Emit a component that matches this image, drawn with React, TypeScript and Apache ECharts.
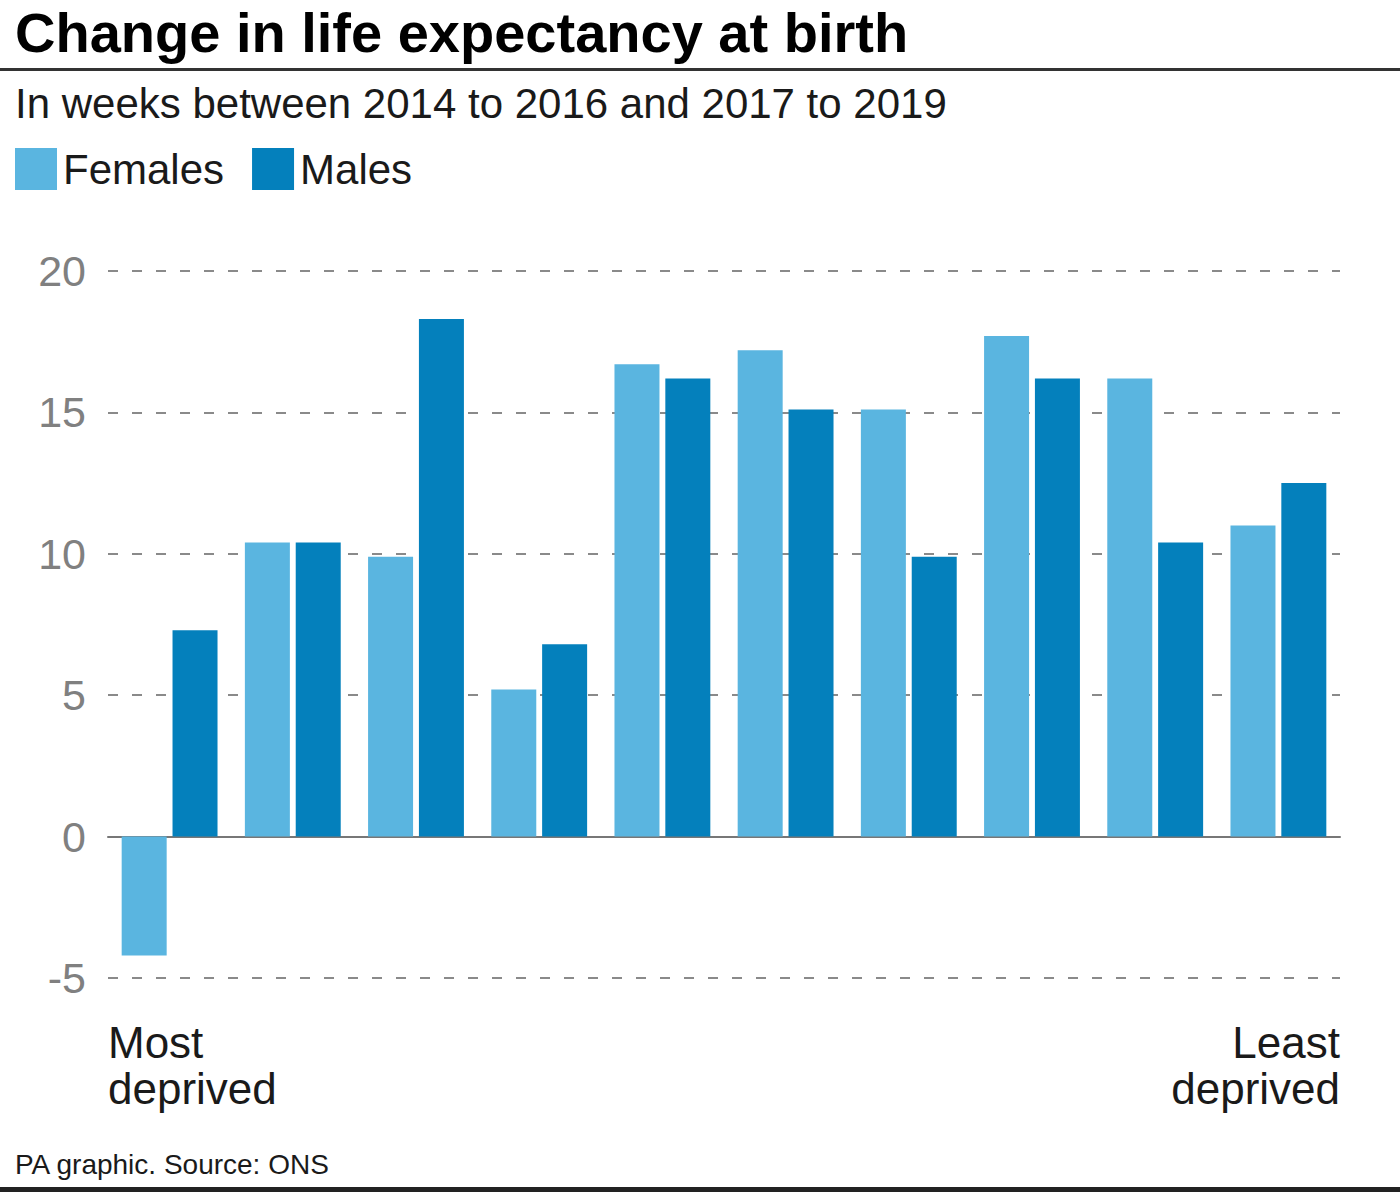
import React, { useEffect, useRef } from "react";
import * as echarts from "echarts";

const categories = ["1", "2", "3", "4", "5", "6", "7", "8", "9", "10"];
const females = [-4.2, 10.4, 9.9, 5.2, 16.7, 17.2, 15.1, 17.7, 16.2, 11.0];
const males = [7.3, 10.4, 18.3, 6.8, 16.2, 15.1, 9.9, 16.2, 10.4, 12.5];
const yTicks = { min: -5, max: 20, interval: 5 };

const FONT = "Liberation Sans";

export default function App() {
  const ref = useRef<HTMLDivElement>(null);
  useEffect(() => {
    document.body.style.margin = "0";
    const chart = echarts.init(ref.current!, null, { renderer: "svg" });
    chart.setOption({
      animation: false,
      backgroundColor: "#ffffff",
      textStyle: { fontFamily: FONT },
      color: ["#5ab5e0", "#0480bc"],
      legend: {
        left: 15,
        top: 148,
        padding: 0,
        icon: "rect",
        itemWidth: 42,
        itemHeight: 42,
        itemGap: 28,
        textStyle: { fontSize: 42, color: "#1a1a1a", fontFamily: FONT, padding: [0, 0, 0, 1] },
        selectedMode: false,
        data: ["Females", "Males"],
      },
      grid: { left: 108, right: 60, top: 271, bottom: 214, containLabel: false },
      xAxis: {
        type: "category",
        data: categories,
        axisLine: { show: true, onZero: true, lineStyle: { color: "#777777", width: 2 } },
        axisTick: { show: false },
        axisLabel: { show: false },
        splitLine: { show: false },
      },
      yAxis: {
        type: "value",
        min: yTicks.min,
        max: yTicks.max,
        interval: yTicks.interval,
        axisLine: { show: false },
        axisTick: { show: false },
        axisLabel: { color: "#808080", fontSize: 43, margin: 22, fontFamily: FONT },
        splitLine: { show: true, lineStyle: { color: "#8a8a8a", width: 2, type: [10, 14] } },
      },
      series: [
        { name: "Females", type: "bar", data: females, barWidth: 45, barGap: "13%" },
        { name: "Males", type: "bar", data: males, barWidth: 45, barGap: "13%" },
      ],
      graphic: [
        {
          type: "text",
          x: 15,
          y: 4,
          style: { text: "Change in life expectancy at birth", fontSize: 56, fontWeight: "bold", fill: "#000", fontFamily: FONT },
        },
        { type: "rect", shape: { x: 0, y: 68, width: 1400, height: 3 }, style: { fill: "#333" } },
        {
          type: "text",
          x: 15,
          y: 82,
          style: { text: "In weeks between 2014 to 2016 and 2017 to 2019", fontSize: 42, fill: "#1a1a1a", fontFamily: FONT },
        },
        {
          type: "text",
          x: 108,
          y: 1019,
          style: { text: "Most\ndeprived", fontSize: 44, lineHeight: 46, fill: "#1a1a1a", fontFamily: FONT },
        },
        {
          type: "text",
          x: 1340,
          y: 1019,
          style: { text: "Least\ndeprived", fontSize: 44, lineHeight: 46, fill: "#1a1a1a", fontFamily: FONT, align: "right" },
        },
        {
          type: "text",
          x: 15,
          y: 1150,
          style: { text: "PA graphic. Source: ONS", fontSize: 28, fill: "#1a1a1a", fontFamily: FONT },
        },
        { type: "rect", shape: { x: 0, y: 1187, width: 1400, height: 5 }, style: { fill: "#222" } },
      ],
    });
    return () => chart.dispose();
  }, []);
  return <div ref={ref} style={{ width: 1400, height: 1192 }} />;
}
